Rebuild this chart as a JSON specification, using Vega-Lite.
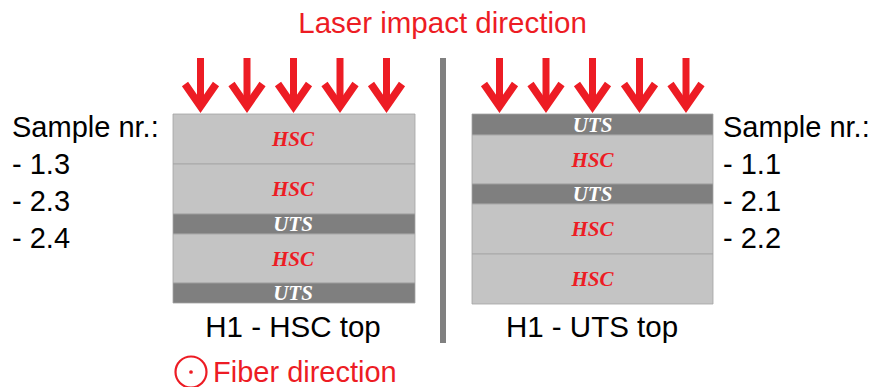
{
  "$schema": "https://vega.github.io/schema/vega-lite/v6.json",
  "width": 877,
  "height": 387,
  "padding": 0,
  "autosize": {"type": "none"},
  "background": "white",
  "config": {"view": {"stroke": null}},
  "datasets": {
    "layers": [
      {"panel": "left", "type": "HSC", "x0": 173, "x1": 415, "xc": 293, "y0": 114, "y1": 164, "yc": 139},
      {"panel": "left", "type": "HSC", "x0": 173, "x1": 415, "xc": 293, "y0": 164, "y1": 214, "yc": 189},
      {"panel": "left", "type": "UTS", "x0": 173, "x1": 415, "xc": 293, "y0": 214, "y1": 234, "yc": 224},
      {"panel": "left", "type": "HSC", "x0": 173, "x1": 415, "xc": 293, "y0": 234, "y1": 283, "yc": 258.5},
      {"panel": "left", "type": "UTS", "x0": 173, "x1": 415, "xc": 293, "y0": 283, "y1": 303, "yc": 293},
      {"panel": "right", "type": "UTS", "x0": 472, "x1": 713, "xc": 592.5, "y0": 114, "y1": 135, "yc": 124.5},
      {"panel": "right", "type": "HSC", "x0": 472, "x1": 713, "xc": 592.5, "y0": 135, "y1": 184, "yc": 159.5},
      {"panel": "right", "type": "UTS", "x0": 472, "x1": 713, "xc": 592.5, "y0": 184, "y1": 204, "yc": 194},
      {"panel": "right", "type": "HSC", "x0": 472, "x1": 713, "xc": 592.5, "y0": 204, "y1": 254, "yc": 229},
      {"panel": "right", "type": "HSC", "x0": 472, "x1": 713, "xc": 592.5, "y0": 254, "y1": 304, "yc": 279}
    ],
    "shafts": [
      {"x": 200.5, "top": 58, "bottom": 104},
      {"x": 247, "top": 58, "bottom": 104},
      {"x": 293.5, "top": 58, "bottom": 104},
      {"x": 340, "top": 58, "bottom": 104},
      {"x": 386.5, "top": 58, "bottom": 104},
      {"x": 499.5, "top": 58, "bottom": 104},
      {"x": 546, "top": 58, "bottom": 104},
      {"x": 592.5, "top": 58, "bottom": 104},
      {"x": 639.5, "top": 58, "bottom": 104},
      {"x": 686, "top": 58, "bottom": 104}
    ],
    "heads": [
      {"id": 1, "o": 1, "x": 185, "y": 84}, {"id": 1, "o": 2, "x": 200.5, "y": 106.4}, {"id": 1, "o": 3, "x": 216, "y": 84},
      {"id": 2, "o": 1, "x": 231.5, "y": 84}, {"id": 2, "o": 2, "x": 247, "y": 106.4}, {"id": 2, "o": 3, "x": 262.5, "y": 84},
      {"id": 3, "o": 1, "x": 278, "y": 84}, {"id": 3, "o": 2, "x": 293.5, "y": 106.4}, {"id": 3, "o": 3, "x": 309, "y": 84},
      {"id": 4, "o": 1, "x": 324.5, "y": 84}, {"id": 4, "o": 2, "x": 340, "y": 106.4}, {"id": 4, "o": 3, "x": 355.5, "y": 84},
      {"id": 5, "o": 1, "x": 371, "y": 84}, {"id": 5, "o": 2, "x": 386.5, "y": 106.4}, {"id": 5, "o": 3, "x": 402, "y": 84},
      {"id": 6, "o": 1, "x": 484, "y": 84}, {"id": 6, "o": 2, "x": 499.5, "y": 106.4}, {"id": 6, "o": 3, "x": 515, "y": 84},
      {"id": 7, "o": 1, "x": 530.5, "y": 84}, {"id": 7, "o": 2, "x": 546, "y": 106.4}, {"id": 7, "o": 3, "x": 561.5, "y": 84},
      {"id": 8, "o": 1, "x": 577, "y": 84}, {"id": 8, "o": 2, "x": 592.5, "y": 106.4}, {"id": 8, "o": 3, "x": 608, "y": 84},
      {"id": 9, "o": 1, "x": 624, "y": 84}, {"id": 9, "o": 2, "x": 639.5, "y": 106.4}, {"id": 9, "o": 3, "x": 655, "y": 84},
      {"id": 10, "o": 1, "x": 670.5, "y": 84}, {"id": 10, "o": 2, "x": 686, "y": 106.4}, {"id": 10, "o": 3, "x": 701.5, "y": 84}
    ],
    "divider": [{"x": 443, "top": 58, "bottom": 343}],
    "texts": [
      {"text": "Laser impact direction", "x": 442.5, "y": 33, "style": "red", "align": "center"},
      {"text": "Fiber direction", "x": 213, "y": 382, "style": "red", "align": "left"},
      {"text": "Sample nr.:", "x": 12, "y": 137, "style": "black", "align": "left"},
      {"text": "- 1.3", "x": 12, "y": 174, "style": "black", "align": "left"},
      {"text": "- 2.3", "x": 12, "y": 211, "style": "black", "align": "left"},
      {"text": "- 2.4", "x": 12, "y": 248, "style": "black", "align": "left"},
      {"text": "Sample nr.:", "x": 723, "y": 137, "style": "black", "align": "left"},
      {"text": "- 1.1", "x": 723, "y": 174, "style": "black", "align": "left"},
      {"text": "- 2.1", "x": 723, "y": 211, "style": "black", "align": "left"},
      {"text": "- 2.2", "x": 723, "y": 248, "style": "black", "align": "left"},
      {"text": "H1 - HSC top", "x": 293, "y": 337, "style": "black", "align": "center"},
      {"text": "H1 - UTS top", "x": 592, "y": 337, "style": "black", "align": "center"}
    ],
    "fiber": [{"x": 191, "y": 372}]
  },
  "layer": [
    {
      "data": {"name": "layers"},
      "mark": {"type": "rect", "stroke": "#a3a3a3", "strokeWidth": 0.8},
      "encoding": {
        "x": {"field": "x0", "type": "quantitative", "scale": {"domain": [0, 877], "nice": false, "zero": false}, "axis": null},
        "x2": {"field": "x1"},
        "y": {"field": "y0", "type": "quantitative", "scale": {"domain": [0, 387], "nice": false, "zero": false, "reverse": true}, "axis": null},
        "y2": {"field": "y1"},
        "color": {"field": "type", "type": "nominal", "scale": {"domain": ["HSC", "UTS"], "range": ["#c4c4c4", "#7f7f7f"]}, "legend": null}
      }
    },
    {
      "data": {"name": "layers"},
      "mark": {"type": "text", "font": "Liberation Serif", "fontStyle": "italic", "fontWeight": "bold", "fontSize": 21, "align": "center", "baseline": "alphabetic", "dy": 7},
      "encoding": {
        "x": {"field": "xc", "type": "quantitative", "axis": null},
        "y": {"field": "yc", "type": "quantitative", "axis": null},
        "text": {"field": "type"},
        "color": {"field": "type", "type": "nominal", "scale": {"domain": ["HSC", "UTS"], "range": ["#ed1c24", "#ffffff"]}, "legend": null}
      }
    },
    {
      "data": {"name": "divider"},
      "mark": {"type": "rule", "color": "#808080", "strokeWidth": 6},
      "encoding": {
        "x": {"field": "x", "type": "quantitative", "axis": null},
        "y": {"field": "top", "type": "quantitative", "axis": null},
        "y2": {"field": "bottom"}
      }
    },
    {
      "data": {"name": "shafts"},
      "mark": {"type": "rule", "color": "#ed1c24", "strokeWidth": 7, "strokeCap": "butt"},
      "encoding": {
        "x": {"field": "x", "type": "quantitative", "axis": null},
        "y": {"field": "top", "type": "quantitative", "axis": null},
        "y2": {"field": "bottom"}
      }
    },
    {
      "data": {"name": "heads"},
      "mark": {"type": "line", "color": "#ed1c24", "strokeWidth": 7.5, "strokeCap": "butt", "strokeJoin": "miter"},
      "encoding": {
        "x": {"field": "x", "type": "quantitative", "axis": null},
        "y": {"field": "y", "type": "quantitative", "axis": null},
        "detail": {"field": "id", "type": "nominal"},
        "order": {"field": "o", "type": "quantitative"}
      }
    },
    {
      "data": {"name": "texts"},
      "transform": [{"filter": "datum.align === 'left'"}],
      "mark": {"type": "text", "font": "Liberation Sans", "fontSize": 29, "align": "left", "baseline": "alphabetic"},
      "encoding": {
        "x": {"field": "x", "type": "quantitative", "axis": null},
        "y": {"field": "y", "type": "quantitative", "axis": null},
        "text": {"field": "text"},
        "color": {"field": "style", "type": "nominal", "scale": {"domain": ["red", "black"], "range": ["#ed1c24", "#000000"]}, "legend": null}
      }
    },
    {
      "data": {"name": "texts"},
      "transform": [{"filter": "datum.align === 'center'"}],
      "mark": {"type": "text", "font": "Liberation Sans", "fontSize": 29.5, "align": "center", "baseline": "alphabetic"},
      "encoding": {
        "x": {"field": "x", "type": "quantitative", "axis": null},
        "y": {"field": "y", "type": "quantitative", "axis": null},
        "text": {"field": "text"},
        "color": {"field": "style", "type": "nominal", "scale": {"domain": ["red", "black"], "range": ["#ed1c24", "#000000"]}, "legend": null}
      }
    },
    {
      "data": {"name": "fiber"},
      "mark": {"type": "point", "shape": "circle", "filled": false, "color": "#ed1c24", "strokeWidth": 2.2, "size": 960, "opacity": 1},
      "encoding": {
        "x": {"field": "x", "type": "quantitative", "axis": null},
        "y": {"field": "y", "type": "quantitative", "axis": null}
      }
    },
    {
      "data": {"name": "fiber"},
      "mark": {"type": "point", "shape": "circle", "filled": true, "color": "#ed1c24", "size": 14, "opacity": 1},
      "encoding": {
        "x": {"field": "x", "type": "quantitative", "axis": null},
        "y": {"field": "y", "type": "quantitative", "axis": null}
      }
    }
  ],
  "resolve": {"scale": {"color": "independent"}}
}
